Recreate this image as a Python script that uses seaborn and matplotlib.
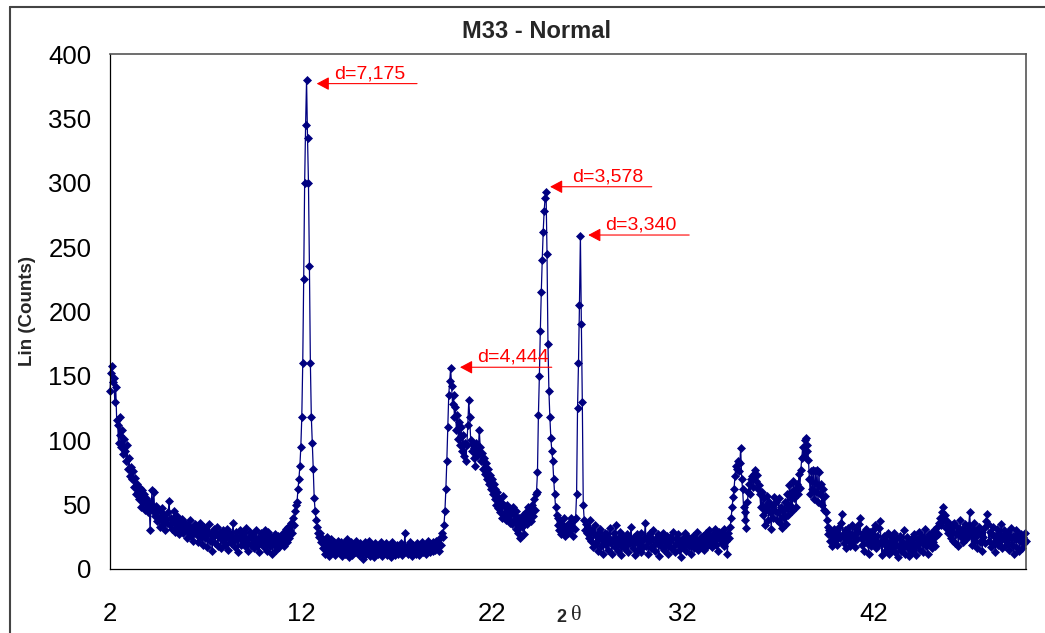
import numpy as np
import pandas as pd
import matplotlib
matplotlib.use("Agg")
import matplotlib.pyplot as plt
from matplotlib.lines import Line2D
import seaborn as sns

# ---- data: XRD scan, 2-theta from 2.00 to 50.00 in 0.05 steps ----
scan_start = 2.0
scan_step = 0.05

counts_02_12 = [
    138, 152, 158, 145, 148, 130, 141, 116, 112, 98, 118, 104, 95, 108, 89, 101, 92, 84, 96, 78,
    86, 72, 79, 70, 76, 64, 71, 58, 66, 60, 54, 63, 48, 57, 61, 52, 58, 46, 55, 50,
    44, 52, 30, 47, 61, 45, 60, 41, 49, 37, 46, 40, 33, 44, 38, 47, 35, 42, 30, 39,
    36, 44, 53, 34, 40, 31, 38, 45, 29, 36, 41, 33, 27, 37, 32, 39, 28, 35, 30, 36,
    31, 24, 34, 29, 38, 26, 32, 22, 30, 35, 27, 33, 21, 29, 36, 25, 31, 19, 28, 33,
    24, 30, 17, 27, 35, 22, 28, 14, 26, 31, 20, 27, 33, 18, 25, 29, 16, 24, 30, 21,
    27, 19, 25, 31, 15, 24, 28, 20, 26, 36, 22, 17, 29, 23, 13, 25, 30, 19, 26, 21,
    28, 18, 24, 32, 20, 14, 25, 29, 19, 23, 27, 16, 22, 30, 18, 24, 13, 21, 28, 20,
    24, 17, 30, 21, 26, 14, 29, 22, 18, 25, 12, 23, 19, 27, 15, 22, 26, 17, 24, 20,
    23, 28, 18, 25, 31, 21, 27, 33, 24, 30, 36, 28, 40, 34, 45, 50, 52, 62, 70, 80,
]
counts_12_20 = [
    95, 118, 160, 225, 300, 345, 380, 335, 300, 235, 160, 118, 98, 78, 55, 45, 38, 33, 28, 25,
    28, 21, 24, 16, 22, 12, 19, 25, 14, 20, 10, 18, 23, 13, 17, 21, 11, 19, 15, 22,
    13, 18, 21, 10, 16, 20, 12, 17, 23, 14, 9, 18, 15, 21, 11, 16, 19, 13, 22, 15,
    17, 11, 20, 14, 18, 8, 16, 21, 12, 17, 14, 22, 10, 15, 19, 13, 17, 9, 20, 14,
    16, 12, 19, 14, 21, 10, 15, 18, 13, 20, 11, 17, 14, 19, 9, 16, 21, 13, 17, 11,
    15, 19, 12, 17, 14, 20, 11, 16, 13, 28, 15, 18, 12, 17, 21, 14, 10, 16, 19, 13,
    17, 12, 20, 15, 11, 18, 14, 21, 13, 16, 19, 12, 17, 22, 15, 13, 19, 16, 21, 14,
    18, 15, 22, 17, 20, 14, 24, 19, 28, 25, 34, 45, 62, 84, 110, 135, 146, 156, 142, 128,
]
counts_20_28 = [
    135, 118, 126, 108, 120, 101, 114, 96, 110, 92, 104, 88, 98, 84, 96, 112, 131, 118, 100, 92,
    97, 86, 94, 80, 98, 88, 92, 108, 95, 84, 90, 78, 86, 74, 82, 70, 78, 66, 73, 62,
    70, 58, 66, 54, 62, 50, 60, 47, 55, 44, 52, 40, 57, 43, 49, 38, 50, 41, 46, 36,
    44, 35, 48, 38, 42, 31, 45, 36, 28, 40, 24, 37, 33, 42, 27, 38, 44, 35, 48, 39,
    45, 37, 50, 41, 54, 46, 58, 60, 75, 120, 150, 185, 215, 240, 262, 278, 288, 293, 245, 175,
    138, 118, 102, 92, 84, 70, 58, 48, 42, 34, 40, 30, 38, 27, 35, 29, 40, 26, 33, 30,
    28, 36, 30, 40, 33, 26, 38, 31, 40, 58, 125, 160, 205, 259, 190, 130, 50, 38, 30, 35,
    28, 33, 24, 38, 22, 30, 17, 27, 34, 20, 26, 14, 29, 23, 31, 18, 25, 12, 22, 28,
]
counts_28_38 = [
    19, 27, 15, 24, 32, 20, 12, 23, 28, 17, 34, 21, 14, 25, 19, 29, 11, 22, 26, 16,
    23, 18, 27, 13, 24, 20, 33, 22, 16, 25, 11, 21, 27, 15, 23, 19, 28, 13, 22, 17,
    24, 36, 18, 25, 12, 22, 28, 16, 23, 30, 19, 14, 24, 20, 27, 10, 21, 26, 17, 23,
    28, 15, 22, 19, 26, 12, 21, 25, 16, 23, 29, 18, 13, 24, 20, 27, 15, 22, 9, 19,
    24, 17, 21, 28, 14, 20, 25, 18, 22, 12, 19, 26, 16, 23, 20, 29, 15, 22, 18, 25,
    19, 26, 21, 15, 24, 28, 18, 23, 30, 20, 25, 17, 27, 22, 31, 19, 26, 14, 29, 23,
    27, 20, 25, 31, 18, 26, 22, 12, 28, 24, 33, 40, 48, 56, 62, 72, 80, 78, 84, 76,
    82, 94, 70, 62, 48, 38, 44, 32, 52, 60, 66, 58, 70, 72, 64, 74, 77, 68, 73, 62,
    65, 58, 48, 60, 42, 55, 34, 50, 46, 57, 38, 52, 44, 31, 49, 40, 56, 45, 52, 38,
    44, 55, 36, 48, 32, 46, 40, 52, 35, 47, 58, 42, 65, 50, 60, 45, 68, 55, 62, 48,
]
counts_38_50 = [
    66, 58, 74, 63, 77, 86, 95, 88, 100, 102, 92, 96, 85, 70, 58, 76, 62, 77, 54, 76,
    60, 77, 52, 75, 58, 66, 50, 62, 46, 57, 44, 38, 33, 27, 30, 22, 28, 18, 25, 31,
    22, 29, 19, 26, 33, 24, 36, 43, 27, 20, 30, 16, 25, 32, 22, 28, 18, 26, 34, 21,
    27, 17, 31, 23, 29, 35, 40, 24, 19, 28, 14, 25, 31, 20, 26, 12, 23, 29, 18, 24,
    30, 21, 34, 16, 26, 19, 32, 37, 22, 11, 20, 26, 14, 22, 18, 28, 12, 21, 17, 25,
    15, 22, 28, 13, 19, 24, 9, 18, 26, 14, 21, 17, 30, 12, 20, 25, 16, 10, 22, 19,
    24, 14, 20, 27, 17, 11, 23, 19, 29, 15, 22, 26, 13, 21, 31, 18, 24, 12, 27, 20,
    25, 16, 28, 21, 30, 18, 26, 33, 27, 36, 40, 34, 44, 48, 38, 42, 32, 37, 28, 35,
    30, 24, 34, 22, 29, 36, 20, 27, 33, 18, 28, 38, 25, 31, 21, 29, 35, 23, 30, 26,
    34, 44, 28, 19, 31, 24, 36, 22, 29, 16, 27, 33, 21, 28, 14, 25, 32, 20, 37, 43,
    35, 22, 29, 17, 27, 33, 20, 26, 13, 24, 31, 19, 28, 22, 35, 16, 25, 30, 18, 27,
    21, 29, 15, 25, 32, 19, 26, 12, 23, 30, 17, 24, 28, 14, 22, 27, 16, 25, 20, 28,
    22,
]

x_ticks = [2, 12, 22, 32, 42]
y_ticks = [0, 50, 100, 150, 200, 250, 300, 350, 400]

peak_labels = ["d=7,175", "d=4,444", "d=3,578", "d=3,340"]
peak_tip_x = [12.83, 20.34, 25.06, 27.06]
peak_tip_y = [377.0, 156.7, 296.9, 259.4]
peak_tail_x = [18.09, 25.15, 30.39, 32.35]
label_x = [13.74, 21.25, 26.19, 27.94]

title_text = "M33 - Normal"
ylabel_text = "Lin (Counts)"

# ---- assemble ----
counts = counts_02_12 + counts_12_20 + counts_20_28 + counts_28_38 + counts_38_50
two_theta = scan_start + scan_step * np.arange(len(counts))
df = pd.DataFrame({"two_theta": two_theta, "counts": counts})

sns.set_style("white")
plt.rcParams["font.family"] = ["Liberation Sans", "DejaVu Sans"]

fig = plt.figure(figsize=(10.45, 6.33), dpi=100, facecolor="white")
ax = fig.add_axes([110 / 1045, 1 - 569 / 633, 916 / 1045, 515 / 633])

navy = "#000080"
sns.lineplot(data=df, x="two_theta", y="counts", ax=ax, color=navy,
             linewidth=0.9, marker="D", markersize=4.2,
             markeredgecolor=navy, markerfacecolor=navy, markeredgewidth=0.5,
             estimator=None, sort=False, legend=False)
for ln in ax.lines:
    ln.set_clip_on(False)

ax.set_xlim(2, 50)
ax.set_ylim(0, 400)
ax.set_xticks(x_ticks)
ax.set_yticks(y_ticks)
ax.set_xlabel("")
ax.set_ylabel("")
ax.tick_params(axis="both", which="major", direction="out", length=6.5,
               width=0.8, color="black", labelsize=18.5, labelcolor="black")
ax.tick_params(axis="x", pad=17)
ax.tick_params(axis="y", pad=7)
for s in ["left", "bottom"]:
    ax.spines[s].set_color("black")
    ax.spines[s].set_linewidth(0.9)
for s in ["top", "right"]:
    ax.spines[s].set_color("#555555")
    ax.spines[s].set_linewidth(1.2)
    ax.spines[s].set_visible(True)

# annotations (red arrows with d-spacing labels)
for lab, tx, ty, ex, lx in zip(peak_labels, peak_tip_x, peak_tip_y, peak_tail_x, label_x):
    ax.annotate("", xy=(tx, ty), xytext=(ex, ty),
                arrowprops=dict(arrowstyle="-|>,head_length=0.75,head_width=0.4",
                                color="red", lw=0.8, shrinkA=0, shrinkB=0),
                annotation_clip=False)
    ax.text(lx, ty + 1.0, lab, color="red", fontsize=14, ha="left", va="bottom")

# titles and axis labels
fig.text(537 / 1045, 1 - 32 / 633, title_text, fontsize=17, fontweight="bold",
         ha="center", va="center")
fig.text(28 / 1045, 1 - 311 / 633, ylabel_text, fontsize=13.5, fontweight="bold",
         rotation=90, ha="center", va="center")
fig.text(561 / 1045, 1 - 618 / 633, "2", fontsize=13, fontweight="bold",
         ha="center", va="center")
fig.text(576 / 1045, 1 - 616 / 633, "θ", fontsize=16, family="Liberation Serif",
         ha="center", va="center")

# outer chart-area border (left and top edges visible)
fig.add_artist(Line2D([10 / 1045, 10 / 1045], [-0.01, 1 - 7 / 633],
                      transform=fig.transFigure, color="#444444", lw=1.5))
fig.add_artist(Line2D([10 / 1045, 1.01], [1 - 7 / 633, 1 - 7 / 633],
                      transform=fig.transFigure, color="#444444", lw=1.5))

fig.savefig("out.png", dpi=100, facecolor="white")
